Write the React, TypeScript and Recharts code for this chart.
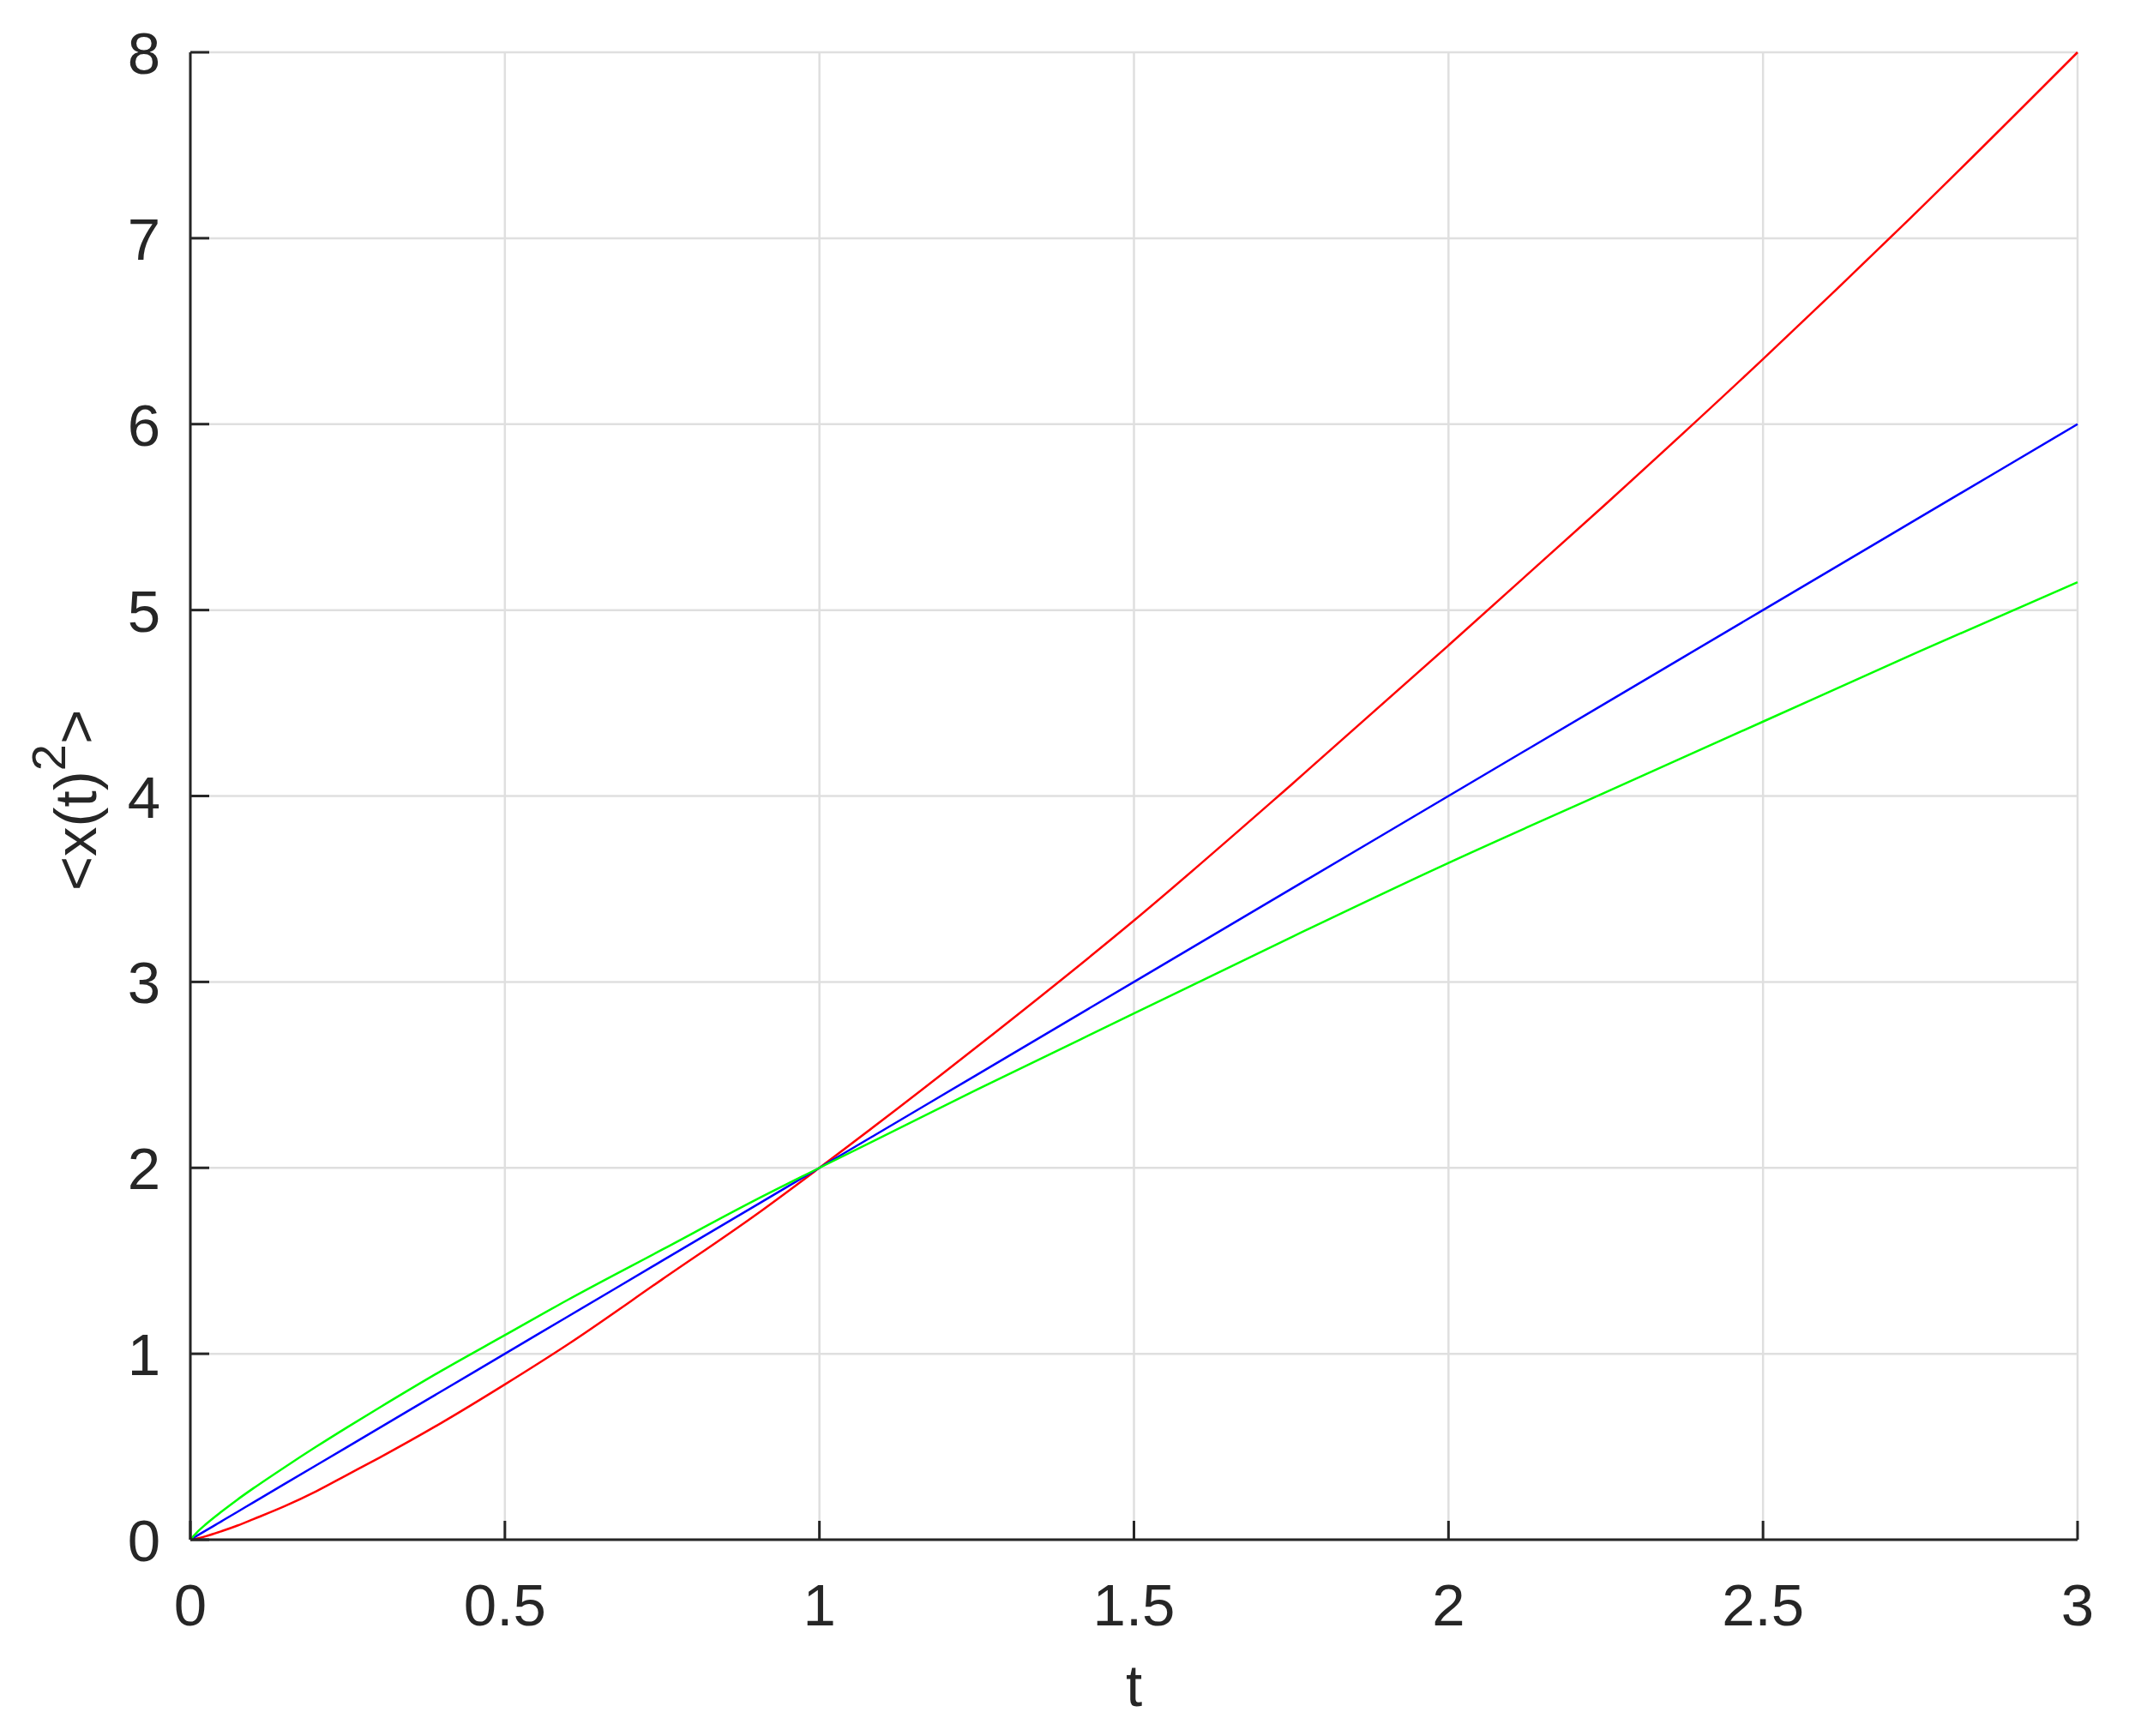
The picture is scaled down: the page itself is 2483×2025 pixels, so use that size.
import React from "react";
import { LineChart, Line, XAxis, YAxis, CartesianGrid, Label } from "recharts";

const tValues = [0, 0.01, 0.025, 0.05, 0.075, 0.1, 0.15, 0.2, 0.25, 0.3, 0.4, 0.5, 0.6, 0.75, 0.9, 1, 1.25, 1.5, 1.75, 2, 2.25, 2.5, 2.75, 3];
const redValues = [0, 0.006, 0.019, 0.046, 0.076, 0.11, 0.18, 0.26, 0.35, 0.44, 0.63, 0.835, 1.05, 1.4, 1.75, 2.0, 2.65, 3.33, 4.06, 4.81, 5.57, 6.35, 7.16, 8.0];
const blueValues = [0, 0.02, 0.05, 0.1, 0.15, 0.2, 0.3, 0.4, 0.5, 0.6, 0.8, 1.0, 1.2, 1.5, 1.8, 2.0, 2.5, 3.0, 3.5, 4.0, 4.5, 5.0, 5.5, 6.0];
const greenValues = [0, 0.038, 0.084, 0.152, 0.216, 0.276, 0.39, 0.5, 0.606, 0.709, 0.91, 1.1, 1.29, 1.56, 1.83, 2.0, 2.42, 2.83, 3.24, 3.64, 4.02, 4.4, 4.78, 5.15];

const xTicks = [0, 0.5, 1, 1.5, 2, 2.5, 3];
const yTicks = [0, 1, 2, 3, 4, 5, 6, 7, 8];

const data = tValues.map((t, i) => ({
  t,
  red: redValues[i],
  blue: blueValues[i],
  green: greenValues[i],
}));

const FONT = "'Liberation Sans', Arial, Helvetica, sans-serif";
const INK = "#262626";

const XTick = (props: any) => {
  const { x, y, payload } = props;
  return (
    <g>
      <line x1={x} x2={x} y1={y} y2={y - 22} stroke={INK} strokeWidth={3} />
      <text x={x} y={y + 100} textAnchor="middle" fill={INK} fontFamily={FONT} fontSize={69}>
        {payload.value}
      </text>
    </g>
  );
};

const YTick = (props: any) => {
  const { x, y, payload } = props;
  return (
    <g>
      <line x1={x} x2={x + 22} y1={y} y2={y} stroke={INK} strokeWidth={3} />
      <text x={x - 35} y={y + 25} textAnchor="end" fill={INK} fontFamily={FONT} fontSize={69}>
        {payload.value}
      </text>
    </g>
  );
};

const XLabel = (props: any) => {
  const vb = props.viewBox || {};
  const cx = vb.x + vb.width / 2;
  const by = vb.y + 194;
  return (
    <text x={cx} y={by} textAnchor="middle" fill={INK} fontFamily={FONT} fontSize={69}>
      t
    </text>
  );
};

const YLabel = (props: any) => {
  const vb = props.viewBox || {};
  const cx = 112;
  const cy = vb.y + vb.height / 2 + 5;
  return (
    <text
      x={cx}
      y={cy}
      transform={`rotate(-90, ${cx}, ${cy})`}
      textAnchor="middle"
      fill={INK}
      fontFamily={FONT}
      fontSize={69}
    >
      {"<x(t)"}
      <tspan dy={-36} fontSize={56}>2</tspan>
      <tspan dy={36}>{">"}</tspan>
    </text>
  );
};

export default function App() {
  return (
    <div style={{ position: "absolute", left: 0, top: 0, background: "#ffffff" }}>
      <LineChart
        width={2483}
        height={2025}
        data={data}
        margin={{ top: 61, right: 60, bottom: 0, left: 0 }}
      >
        <CartesianGrid stroke="#dfdfdf" strokeWidth={2.5} />
        <XAxis
          dataKey="t"
          type="number"
          domain={[0, 3]}
          ticks={xTicks}
          height={229}
          tickSize={0}
          tickMargin={0}
          tickLine={false}
          axisLine={{ stroke: INK, strokeWidth: 3 }}
          tick={<XTick />}
          interval={0}
        >
          <Label content={<XLabel />} />
        </XAxis>
        <YAxis
          type="number"
          domain={[0, 8]}
          ticks={yTicks}
          width={222}
          tickSize={0}
          tickMargin={0}
          tickLine={false}
          axisLine={{ stroke: INK, strokeWidth: 3 }}
          tick={<YTick />}
          interval={0}
        >
          <Label content={<YLabel />} />
        </YAxis>
        <Line type="monotone" dataKey="red" stroke="#ff0000" strokeWidth={2.5} dot={false} isAnimationActive={false} />
        <Line type="monotone" dataKey="blue" stroke="#0000ff" strokeWidth={2.5} dot={false} isAnimationActive={false} />
        <Line type="monotone" dataKey="green" stroke="#00ff00" strokeWidth={2.5} dot={false} isAnimationActive={false} />
      </LineChart>
    </div>
  );
}
